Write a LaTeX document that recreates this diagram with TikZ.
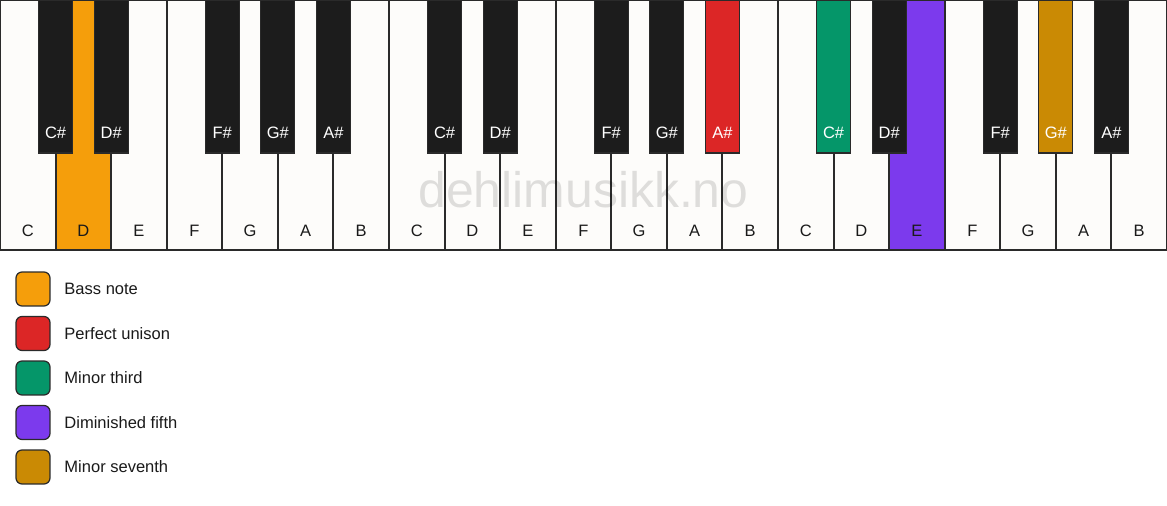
\documentclass[tikz,border=0pt]{standalone}
\usepackage{fontspec}
\setmainfont{Liberation Sans}
\usetikzlibrary{positioning}

\definecolor{keywhite}{HTML}{FDFCFA}
\definecolor{keyblack}{HTML}{1C1C1C}
\definecolor{keyline}{HTML}{2A2A2A}
\definecolor{ink}{HTML}{1A1A1A}
\definecolor{bassnote}{HTML}{F59E0B}
\definecolor{unison}{HTML}{DC2626}
\definecolor{minthird}{HTML}{059669}
\definecolor{dimfifth}{HTML}{7C3AED}
\definecolor{minseventh}{HTML}{CA8A04}

\newcommand{\keyfont}{\fontsize{9.4pt}{11pt}\selectfont}
\newcommand{\keyw}{55.571}

\begin{document}
\begin{tikzpicture}[x=0.02cm,y=-0.02cm,
    whitekey/.style={draw=keyline,line width=0.038cm},
    blackkey/.style={draw=keyline,line width=0.025cm},
    keylabel/.style={font=\keyfont,text=ink,inner sep=0pt,anchor=base},
    blacklabel/.style={font=\keyfont,text=white,inner sep=0pt,anchor=base},
    watermark/.style={font=\fontsize{28.4pt}{31pt}\selectfont,text=black,text opacity=0.12,inner sep=0pt,anchor=base},
    legbox/.style={draw=keyline,line width=0.025cm,rounded corners=0.12cm,minimum size=0.68cm,inner sep=0pt},
    legtext/.style={font=\keyfont,text=ink,inner sep=0pt,anchor=west}]
    \useasboundingbox[fill=white] (0,0) rectangle (1167,506);

    % white keys
    \foreach \n/\c [count=\i from 0] in {C/keywhite,D/bassnote,E/keywhite,F/keywhite,G/keywhite,A/keywhite,B/keywhite,
        C/keywhite,D/keywhite,E/keywhite,F/keywhite,G/keywhite,A/keywhite,B/keywhite,
        C/keywhite,D/keywhite,E/dimfifth,F/keywhite,G/keywhite,A/keywhite,B/keywhite}{
      \filldraw[whitekey,fill=\c] (\i*\keyw,0) rectangle ++(\keyw,250);
      \node[keylabel] (w\i) at (\i*\keyw+\keyw/2,236.7) {\n};
    }

    \node[watermark] (mark) at (583.5,208) {dehlimusikk.no};

    % black keys, centred on the key boundaries
    \foreach \b/\n/\c in {1/C\#/keyblack,2/D\#/keyblack,4/F\#/keyblack,5/G\#/keyblack,6/A\#/keyblack,
        8/C\#/keyblack,9/D\#/keyblack,11/F\#/keyblack,12/G\#/keyblack,13/A\#/unison,
        15/C\#/minthird,16/D\#/keyblack,18/F\#/keyblack,19/G\#/minseventh,20/A\#/keyblack}{
      \filldraw[blackkey,fill=\c] (\b*\keyw-17,0) rectangle (\b*\keyw+17,153);
      \node[blacklabel] (b\b) at (\b*\keyw,139) {\n};
    }

    % legend
    \foreach \c/\t [count=\i] in {bassnote/Bass note,unison/Perfect unison,minthird/Minor third,
        dimfifth/Diminished fifth,minseventh/Minor seventh}{
      \node[legbox,fill=\c] (box\i) at (33,244.5+\i*44.5) {};
      \node[legtext,right=0.27cm of box\i] (txt\i) {\t};
    }
  \end{tikzpicture}
\end{document}
